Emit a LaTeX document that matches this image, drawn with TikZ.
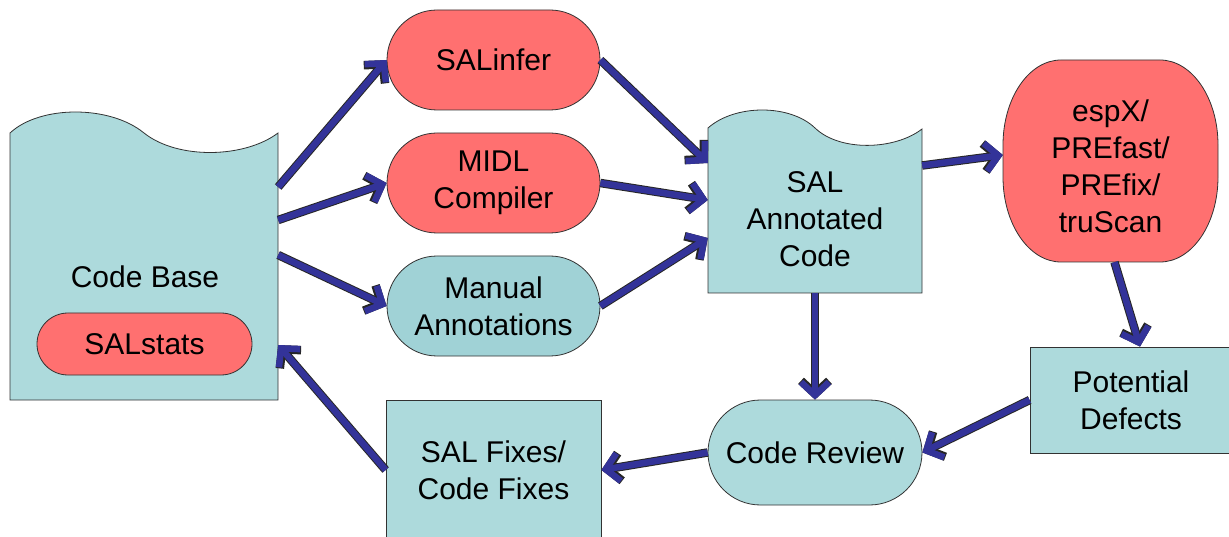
\documentclass[tikz,border=0pt]{standalone}
\usepackage{fontspec}
\setmainfont{Liberation Sans}
\usetikzlibrary{arrows.meta,shapes.misc}
\definecolor{teal1}{RGB}{173,218,220}
\definecolor{teal2}{RGB}{160,210,214}
\definecolor{pink1}{RGB}{255,112,112}
\definecolor{arrblue}{RGB}{51,51,153}
\definecolor{edge}{RGB}{50,50,50}
\tikzset{
  txt/.style={font=\fontsize{30}{37}\selectfont, align=center, inner sep=0pt},
  pill/.style={rounded rectangle, draw=edge, line width=0.8pt, minimum width=213pt, inner sep=0pt, font=\fontsize{30}{37}\selectfont, align=center},
  box/.style={rectangle, draw=edge, line width=0.8pt, fill=teal1, inner sep=0pt, font=\fontsize{30}{37}\selectfont, align=center},
  ghost/.style={rectangle, draw=none, inner sep=0pt},
  outline/.style={draw=edge, line width=0.8pt},
  arr/.style={line width=6.5pt, draw=arrblue, -{Straight Barb[length=13pt,width=28pt]},
    preaction={draw=black!85, line width=8.5pt, -{Straight Barb[length=13pt,width=28pt]}}},
}
\begin{document}
\begin{tikzpicture}[x=1pt,y=-1pt]
\useasboundingbox (0,0) rectangle (1229,537);
% Code Base document shape
\draw[outline, fill=teal1] (10,133) .. controls (40,105) and (110,105) .. (144,133) .. controls (178,160) and (245,158) .. (278,133) -- (278,400) -- (10,400) -- cycle;
\node[ghost, minimum width=268pt, minimum height=267pt] (cb) at (144,266.5) {};
\node[txt] (cbt) at (145,277) {Code Base};
\node[pill, fill=pink1, minimum width=215pt, minimum height=62pt] (salstats) at (144.5,344) {SALstats};
% tools
\node[pill, fill=pink1, minimum height=100pt] (salinfer) at (493.5,60) {SALinfer};
\node[pill, fill=pink1, minimum height=100pt] (midl) at (493.5,183) {MIDL\\Compiler};
\node[pill, fill=teal2, minimum height=100pt] (manual) at (493.5,306) {Manual\\Annotations};
% SAL Annotated Code document shape
\draw[outline, fill=teal1] (708,128) .. controls (735,104) and (790,104) .. (815,128) .. controls (840,152) and (895,150) .. (922,129) -- (922,293) -- (708,293) -- cycle;
\node[ghost, minimum width=214pt, minimum height=165pt] (sac) at (815,210.5) {};
\node[txt] (sact) at (815,219) {SAL\\Annotated\\Code};
% espX (rounded box with elliptical corners)
\draw[outline, fill=pink1] (1061,60) -- (1160,60)
  .. controls (1192,60) and (1218,98) .. (1218,145) -- (1218,177)
  .. controls (1218,224) and (1192,262) .. (1160,262) -- (1061,262)
  .. controls (1029,262) and (1003,224) .. (1003,177) -- (1003,145)
  .. controls (1003,98) and (1029,60) .. (1061,60) -- cycle;
\node[ghost, minimum width=215pt, minimum height=202pt] (espx) at (1110.5,161) {};
\node[txt] (espxt) at (1110.5,166) {espX/\\PREfast/\\PREfix/\\truScan};
% Potential Defects
\node[box, minimum width=202pt, minimum height=106pt] (pd) at (1131,400) {Potential\\Defects};
% Code Review
\node[pill, fill=teal1, minimum width=214pt, minimum height=105pt] (cr) at (815,452.5) {Code Review};
% SAL Fixes
\node[box, minimum width=215pt, minimum height=140pt] (fix) at (493.5,470) {SAL Fixes/\\Code Fixes};
% arrows
\draw[arr] ([yshift=79.5pt]cb.east) -- (salinfer.west);
\draw[arr] ([yshift=46.5pt]cb.east) -- (midl.west);
\draw[arr] ([yshift=11.5pt]cb.east) -- (manual.west);
\draw[arr] (salinfer.east) -- ([yshift=47.5pt]sac.west);
\draw[arr] (midl.east) -- ([yshift=10.5pt]sac.west);
\draw[arr] (manual.east) -- ([yshift=-27.5pt]sac.west);
\draw[arr] ([yshift=45pt]sac.east) -- ([yshift=6pt]espx.west);
\draw[arr] (sac.south) -- (cr.north);
\draw[arr] ([xshift=4pt]espx.south) -- ([xshift=9pt]pd.north);
\draw[arr] (pd.west) -- (cr.east);
\draw[arr] (cr.west) -- (fix.east);
\draw[arr] (fix.west) -- ([yshift=-78.5pt]cb.east);
\end{tikzpicture}
\end{document}
